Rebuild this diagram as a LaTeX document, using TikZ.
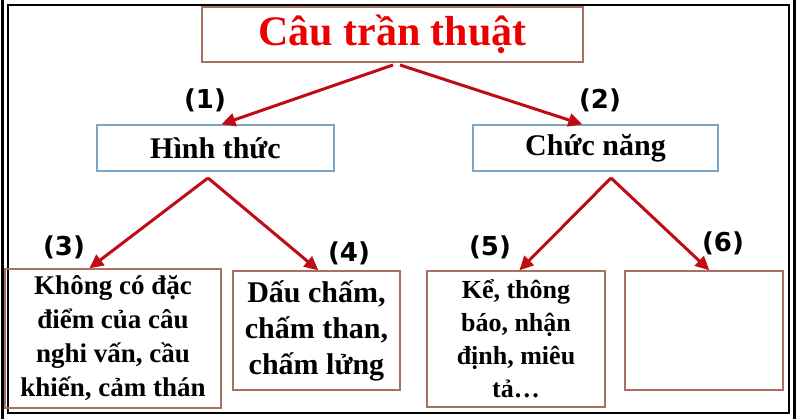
\documentclass[tikz,border=0pt]{standalone}
\usepackage{fontspec}
\setmainfont{Liberation Serif}
\newfontfamily\labelfont{DejaVu Sans}
\usetikzlibrary{arrows.meta}
\definecolor{arrowred}{RGB}{192,10,20}
\definecolor{titlered}{RGB}{235,0,0}
\definecolor{brownborder}{RGB}{165,115,95}
\definecolor{blueborder}{RGB}{125,165,195}
\tikzset{
  box/.style={draw, line width=1.3pt, inner sep=0pt, align=center},
  topbox/.style={box, draw=brownborder},
  midbox/.style={box, draw=blueborder},
  lowbox/.style={box, draw=brownborder},
  conn/.style={draw=arrowred, line width=3pt, -{Triangle[length=14pt,width=13pt]}},
  numlabel/.style={font=\labelfont\bfseries\fontsize{26pt}{28pt}\selectfont, inner sep=0pt}
}
\begin{document}
\begin{tikzpicture}[x=1pt,y=-1pt]
\useasboundingbox (0,0) rectangle (800,419);
% frame
\draw[line width=2.5pt] (8,5) rectangle (789,413);
\draw[line width=3pt] (2.5,0) -- (2.5,419);
\draw[line width=3pt] (794,0) -- (794,419);
% boxes
\node[topbox, minimum width=381pt, minimum height=55pt, text=titlered,
  font=\bfseries\fontsize{42pt}{44pt}\selectfont] (top) at (392.5,34.5)
  {Câu trần thuật};
\node[midbox, minimum width=237pt, minimum height=46pt,
  font=\bfseries\fontsize{30pt}{32pt}\selectfont] (hinh) at (215.5,148)
  {Hình thức};
\node[midbox, minimum width=245pt, minimum height=46pt,
  font=\bfseries\fontsize{30pt}{32pt}\selectfont] (chuc) at (595.5,148)
  {Chức năng};
\node[lowbox, minimum width=216pt, minimum height=139pt,
  font=\bfseries\fontsize{27pt}{34pt}\selectfont] (b3) at (113,338.5)
  {Không có đặc\\ điểm của câu\\ nghi vấn, cầu\\ khiến, cảm thán};
\node[lowbox, minimum width=167pt, minimum height=119pt,
  font=\bfseries\fontsize{30pt}{36pt}\selectfont] (b4) at (316.5,330.5)
  {Dấu chấm,\\ chấm than,\\ chấm lửng};
\node[lowbox, minimum width=178pt, minimum height=136pt,
  font=\bfseries\fontsize{26pt}{33pt}\selectfont] (b5) at (516,339)
  {Kể, thông\\ báo, nhận\\ định, miêu\\ tả…};
\node[lowbox, minimum width=158pt, minimum height=119pt] (b6) at (704,330.5) {};
% start points
\coordinate (s1) at (393,65);
\coordinate (s2) at (400,65);
\coordinate (s3) at (208,178);
\coordinate (s5) at (611,178);
% connectors
\draw[conn] (s1) -- ([xshift=125pt]hinh.north west);
\draw[conn] (s2) -- ([xshift=110pt]chuc.north west);
\draw[conn] (s3) -- ([xshift=85pt]b3.north west);
\draw[conn] (s3) -- ([xshift=86pt]b4.north west);
\draw[conn] (s5) -- ([xshift=93pt]b5.north west);
\draw[conn] (s5) -- ([xshift=85pt]b6.north west);
% labels
\node[numlabel] (l1) at (205,100) {(1)};
\node[numlabel] (l2) at (600,100) {(2)};
\node[numlabel] (l3) at (64,247) {(3)};
\node[numlabel] (l4) at (349,253) {(4)};
\node[numlabel] (l5) at (490,247) {(5)};
\node[numlabel] (l6) at (723,243) {(6)};
\end{tikzpicture}
\end{document}
